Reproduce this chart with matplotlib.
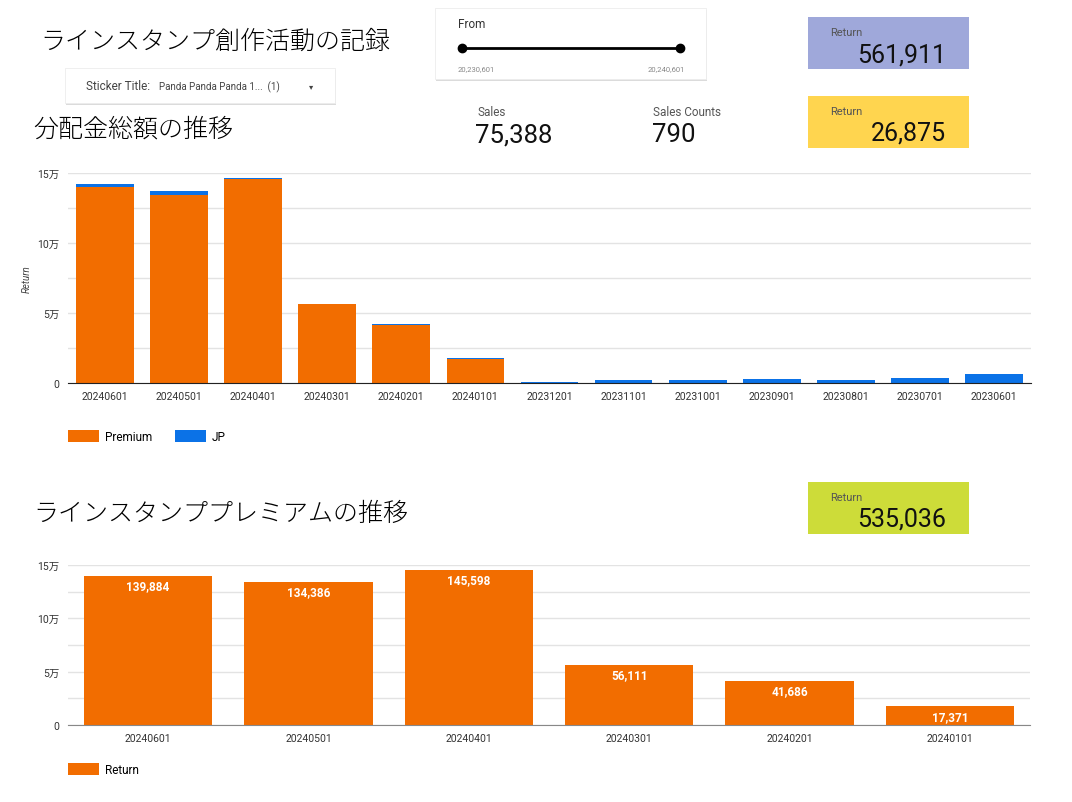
import matplotlib
matplotlib.use("Agg")
import matplotlib.pyplot as plt
from matplotlib.patches import Rectangle
from matplotlib.ticker import FixedLocator, FuncFormatter
import numpy as np

plt.rcParams['font.family'] = ['Roboto', 'Noto Sans CJK JP', 'DejaVu Sans']

# 分配金総額の推移（上段）
months_all = ['20240601', '20240501', '20240401', '20240301', '20240201', '20240101',
              '20231201', '20231101', '20231001', '20230901', '20230801', '20230701', '20230601']
premium_all = [139884, 134386, 145598, 56111, 41686, 17371, 0, 0, 0, 0, 0, 0, 0]
jp_all = [2000, 2400, 700, 600, 500, 600, 975, 1900, 2100, 3000, 2100, 3600, 6400]

# ラインスタンププレミアムの推移（下段）
months_prem = ['20240601', '20240501', '20240401', '20240301', '20240201', '20240101']
return_prem = [139884, 134386, 145598, 56111, 41686, 17371]

# KPI
kpi_total = 561911
kpi_jp = 26875
kpi_premium = 535036
sales = 75388
sales_counts = 790
date_from = 20230601
date_to = 20240601

ORANGE = '#f26d00'
BLUE = '#0b72e7'
W, H = 1072, 803

fig = plt.figure(figsize=(W / 100, H / 100), dpi=100)

# 全体のオーバーレイ（ピクセル座標）
ov = fig.add_axes([0, 0, 1, 1], zorder=0)
ov.set_xlim(0, W)
ov.set_ylim(H, 0)
ov.axis('off')


def card(x, y, w, h):
    """影付きの白いカード"""
    ov.add_patch(Rectangle((x + 1, y + 2), w, h, facecolor='#c4c4c4', edgecolor='none', alpha=0.6))
    ov.add_patch(Rectangle((x, y), w, h, facecolor='white', edgecolor='#ececec', linewidth=0.6))


def kpi_box(x, y, color, value):
    ov.add_patch(Rectangle((x, y), 161, 52, facecolor=color, edgecolor='none'))
    ov.text(x + 22, y + 15, 'Return', fontsize=8, color='#555555', va='center')
    ov.text(x + 138, y + 37, f'{value:,}', fontsize=18, color='#111111', va='center', ha='right')


# タイトル
jp_font = ['Noto Sans CJK JP', 'DejaVu Sans']
ov.text(40, 42, 'ラインスタンプ創作活動の記録', fontsize=18, family=jp_font, weight='light', va='center')
ov.text(33, 129, '分配金総額の推移', fontsize=18, family=jp_font, weight='light', va='center')
ov.text(33, 514, 'ラインスタンププレミアムの推移', fontsize=18, family=jp_font, weight='light', va='center')

# フィルタ
card(65, 69, 270, 35)
ov.text(86, 87, 'Sticker Title:', fontsize=8.5, color='#444444', va='center')
ov.text(159, 87, 'Panda Panda Panda 1...  (1)', fontsize=7, color='#444444', va='center')
ov.text(311, 87, '▾', fontsize=6, color='#444444', va='center', ha='center', family=['DejaVu Sans'])

# 期間スライダー
card(435, 9, 271, 71)
ov.text(458, 25, 'From', fontsize=8.5, color='#333333', va='center')
ov.plot([462, 680], [49, 49], color='black', linewidth=2)
ov.plot([462, 680], [49, 49], 'o', color='black', markersize=6)
ov.text(458, 69, f'{date_from:,}', fontsize=5.5, color='#888888', va='center')
ov.text(685, 69, f'{date_to:,}', fontsize=5.5, color='#888888', va='center', ha='right')

# スコアカード
ov.text(477, 112, 'Sales', fontsize=8.5, color='#555555', va='center')
ov.text(475, 135, f'{sales:,}', fontsize=18.5, color='#111111', va='center')
ov.text(653, 112, 'Sales Counts', fontsize=8.5, color='#555555', va='center')
ov.text(652, 135, f'{sales_counts:,}', fontsize=18.5, color='#111111', va='center')

kpi_box(808, 18, '#9fa8da', kpi_total)
kpi_box(808, 97, '#ffd54f', kpi_jp)
kpi_box(808, 483, '#cddc39', kpi_premium)


def man_fmt(v, pos):
    return '0' if v == 0 else f'{int(v / 10000)}万'


def style_axis(ax, axis_color):
    ax.set_ylim(0, 150000)
    ax.yaxis.set_major_locator(FixedLocator([0, 50000, 100000, 150000]))
    ax.yaxis.set_minor_locator(FixedLocator([25000, 75000, 125000]))
    ax.yaxis.set_major_formatter(FuncFormatter(man_fmt))
    ax.grid(axis='y', which='both', color='#e3e3e3', linewidth=1)
    ax.set_axisbelow(True)
    for s in ['top', 'right', 'left']:
        ax.spines[s].set_visible(False)
    ax.spines['bottom'].set_color(axis_color)
    ax.tick_params(axis='both', which='both', length=0, labelsize=7.5, colors='#333333')
    ax.tick_params(axis='y', pad=6)
    ax.tick_params(axis='x', pad=6)
    ax.set_facecolor('none')


# 上段：積み上げ棒
ax1 = fig.add_axes([68 / W, 1 - 384 / H, 963 / W, 210 / H], zorder=1)
x1 = np.arange(len(months_all))
b1 = ax1.bar(x1, premium_all, width=0.78, color=ORANGE, label='Premium')
b2 = ax1.bar(x1, jp_all, width=0.78, bottom=premium_all, color=BLUE, label='JP')
ax1.set_xlim(-0.5, len(months_all) - 0.5)
ax1.set_xticks(x1, months_all)
style_axis(ax1, '#222222')
ax1.set_ylabel('Return', fontsize=7, style='italic', color='#444444', labelpad=4)
ax1.legend(loc='upper left', bbox_to_anchor=(0, -0.225), ncol=2, frameon=False,
           fontsize=8.5, handlelength=2.6, handleheight=1.2, borderpad=0, borderaxespad=0,
           columnspacing=2.0, handletextpad=0.5)

# 下段：プレミアム
ax2 = fig.add_axes([68 / W, 1 - 726 / H, 962 / W, 160 / H], zorder=1)
x2 = np.arange(len(months_prem))
bars = ax2.bar(x2, return_prem, width=0.8, color=ORANGE, label='Return')
ax2.set_xlim(-0.5, len(months_prem) - 0.5)
ax2.set_xticks(x2, months_prem)
style_axis(ax2, '#888888')
for rect, v in zip(bars, return_prem):
    ax2.annotate(f'{v:,}', (rect.get_x() + rect.get_width() / 2, rect.get_height()),
                 xytext=(0, -7), textcoords='offset points', ha='center', va='center',
                 fontsize=8.5, color='white', weight='bold')
ax2.legend(loc='upper left', bbox_to_anchor=(0, -0.235), frameon=False,
           fontsize=8.5, handlelength=2.6, handleheight=1.2, borderpad=0, borderaxespad=0,
           handletextpad=0.5)

fig.savefig('out.png', dpi=100, facecolor='white')
